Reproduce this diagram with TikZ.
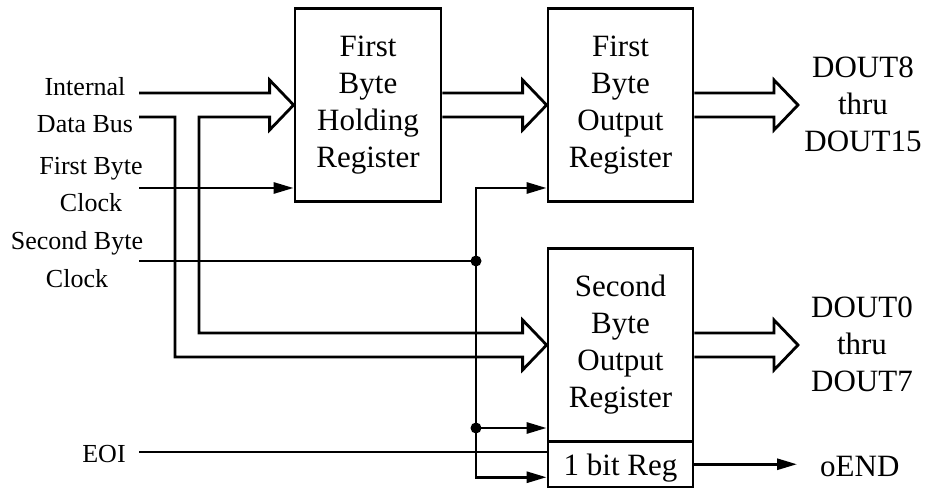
\documentclass[tikz,border=0pt]{standalone}
\usepackage{fontspec}
\setmainfont{Liberation Serif}
\usetikzlibrary{arrows.meta,calc}

\tikzset{
    wire/.style={line width=2.8pt},
    sig/.style={wire, -{Triangle[length=20pt,width=11pt]}},
    reg/.style={draw, line width=2.8pt, minimum width=145pt, minimum height=193pt,
        inner sep=0pt, align=center, font=\fontsize{31}{37}\selectfont},
    lbl/.style={inner sep=0pt, align=center, font=\fontsize{26}{37.5}\selectfont},
    outlbl/.style={inner sep=0pt, align=center, font=\fontsize{31}{37}\selectfont},
    bushead/.style={insert path={-- ($(#1)+(-24,-12)$) -- ($(#1)+(-24,-25)$) -- (#1)
        -- ($(#1)+(-24,25)$) -- ($(#1)+(-24,12)$)}},
}

\begin{document}
\begin{tikzpicture}[x=1pt, y=-1pt]
    \useasboundingbox (0,0) rectangle (929,489);

    % Registers
    \node[reg, minimum width=146pt] (hold) at (368,105) {First\\Byte\\Holding\\Register};
    \node[reg] (out1) at (620.5,105) {First\\Byte\\Output\\Register};
    \node[reg] (out2) at (620.5,345) {Second\\Byte\\Output\\Register};
    \node[reg, minimum height=45.5pt, text depth=0pt] (bitreg) at (620.5,464.25) {1 bit Reg};

    % Input labels
    \node[lbl] (ldata) at (85,105) {Internal\\Data Bus};
    \node[lbl] (lclk1) at (91,184.6) {First Byte\\Clock};
    \node[lbl] (lclk2) at (77,259.6) {Second Byte\\Clock};
    \node[lbl] (leoi) at (104,454.3) {EOI};

    % Output labels
    \node[outlbl] (dout1) at (863,104) {DOUT8\\thru\\DOUT15};
    \node[outlbl] (dout0) at (862,344) {DOUT0\\thru\\DOUT7};
    \node[outlbl, anchor=base west] (oend) at (820,476) {oEND};

    % Wire ends and junctions
    \coordinate (busA) at (139,93);
    \coordinate (busB) at (139,117);
    \coordinate (clk1) at (139,188);
    \coordinate (clk2) at (139,261);
    \coordinate (eoi) at (139,452);
    \coordinate (jn1) at (476,261);
    \coordinate (jn2) at (476,428);
    \coordinate (tip1) at (798,105);
    \coordinate (tip0) at (798,345);

    % Data buses
    \draw[wire] (busA) [bushead=hold.west] -- (199,117) -- (199,333)
        [bushead=out2.west] -- (175,357) -- (175,117) -- (busB);
    \draw[wire] ([yshift=12pt]hold.east) [bushead=out1.west] -- ([yshift=-12pt]hold.east);
    \draw[wire] ([yshift=12pt]out1.east) [bushead=tip1] -- ([yshift=-12pt]out1.east);
    \draw[wire] ([yshift=12pt]out2.east) [bushead=tip0] -- ([yshift=-12pt]out2.east);

    % Clocks
    \draw[sig] (clk1) -- (clk1 -| hold.west);
    \draw[wire] (clk2) -- (jn1);
    \draw[sig] (jn1) |- (out1.west |- clk1);
    \draw[sig] (jn1) |- ([yshift=-13pt]bitreg.west);
    \draw[sig] (jn2) -- (out2.west |- jn2);
    \fill (jn1) circle (5.5pt);
    \fill (jn2) circle (5.5pt);

    % End of input
    \draw[wire] (eoi) -- (bitreg.west |- eoi);
    \draw[sig, shorten >=23pt] (bitreg.east) -- (bitreg.east -| oend.west);
\end{tikzpicture}
\end{document}
